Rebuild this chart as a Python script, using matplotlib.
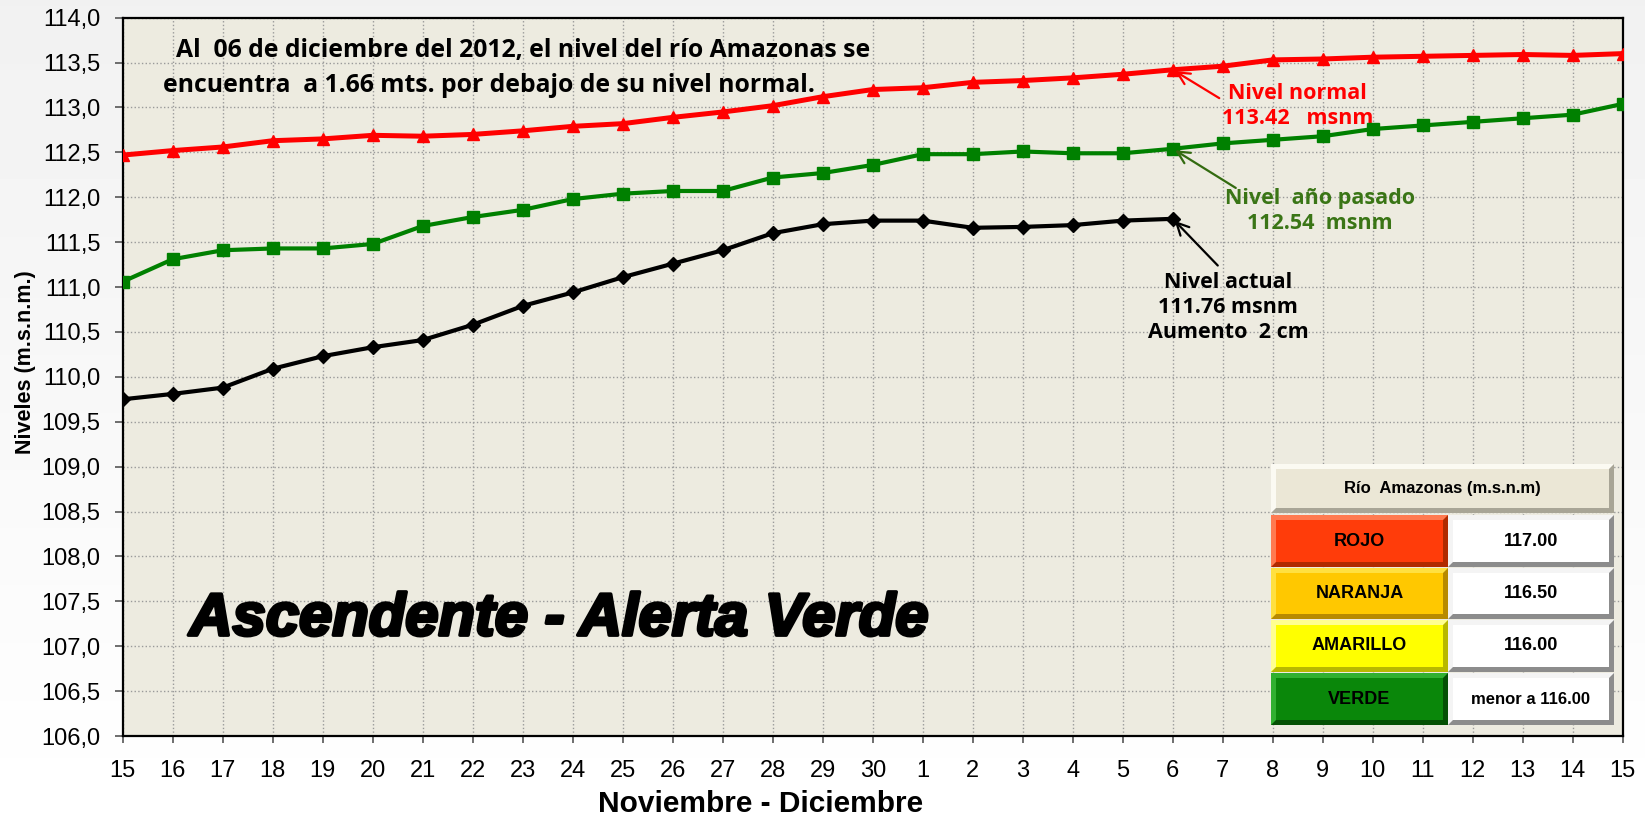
import numpy as np
import matplotlib
matplotlib.use('Agg')
import matplotlib.pyplot as plt
from matplotlib.patches import Rectangle, Polygon
import matplotlib.patheffects as pe

plt.rcParams['font.family'] = ['Liberation Sans', 'DejaVu Sans']

# datos
dias = ['15', '16', '17', '18', '19', '20', '21', '22', '23', '24', '25', '26', '27', '28', '29', '30',
        '1', '2', '3', '4', '5', '6', '7', '8', '9', '10', '11', '12', '13', '14', '15']
nivel_normal = [112.47, 112.52, 112.56, 112.63, 112.65, 112.69, 112.68, 112.70, 112.74, 112.79, 112.82,
                112.89, 112.95, 113.02, 113.12, 113.20, 113.22, 113.28, 113.30, 113.33, 113.37, 113.42,
                113.46, 113.53, 113.54, 113.56, 113.57, 113.58, 113.59, 113.58, 113.60]
nivel_pasado = [111.06, 111.31, 111.41, 111.43, 111.43, 111.48, 111.68, 111.78, 111.86, 111.98, 112.04,
                112.07, 112.07, 112.22, 112.27, 112.36, 112.48, 112.48, 112.51, 112.49, 112.49, 112.54,
                112.60, 112.64, 112.68, 112.76, 112.80, 112.84, 112.88, 112.92, 113.04]
nivel_actual = [109.75, 109.81, 109.88, 110.09, 110.23, 110.33, 110.41, 110.58, 110.79, 110.94, 111.11,
                111.26, 111.41, 111.60, 111.70, 111.74, 111.74, 111.66, 111.67, 111.69, 111.74, 111.76]

alertas = ['ROJO', 'NARANJA', 'AMARILLO', 'VERDE']
umbrales = ['117.00', '116.50', '116.00', 'menor a 116.00']
colores_alerta = [('#ff3c0a', '#b02a00', '#ff7a50'),
                  ('#ffc800', '#b88a00', '#ffe040'),
                  ('#ffff00', '#b8b800', '#ffff90'),
                  ('#0a870a', '#045004', '#30b030')]

x = np.arange(len(dias))
hoy = len(nivel_actual) - 1

fig = plt.figure(figsize=(16.45, 8.19), dpi=100)

# fondo degradado
bg = fig.add_axes([0, 0, 1, 1], zorder=-10)
grad = np.linspace(0.945, 1.0, 256).reshape(-1, 1)
bg.imshow(grad, aspect='auto', cmap='gray', vmin=0, vmax=1, extent=[0, 1, 0, 1])
bg.axis('off')

ax = fig.add_axes([0.0746, 0.1013, 0.9119, 0.8771])
ax.set_facecolor('#edebe0')

ax.plot(x, nivel_normal, color='#ff0000', lw=3.6, marker='^', ms=9, zorder=4)
ax.plot(x, nivel_pasado, color='#008000', lw=3.0, marker='s', ms=8, zorder=4)
ax.plot(x[:len(nivel_actual)], nivel_actual, color='black', lw=3.0, marker='D', ms=7, zorder=4)

ax.set_xlim(0, len(dias) - 1)
ax.set_ylim(106, 114)
ax.set_xticks(x)
ax.set_xticklabels(dias)
yt = np.arange(106, 114.01, 0.5)
ax.set_yticks(yt)
ax.set_yticklabels([('%.1f' % v).replace('.', ',') for v in yt])
ax.tick_params(axis='x', labelsize=17, length=5, width=1.2, color='#555555', pad=12)
ax.tick_params(axis='y', labelsize=17, length=6, width=1.2, color='#555555', pad=10)
ax.grid(True, ls=':', color='#9a9a9a', lw=1.0)
for s in ax.spines.values():
    s.set_linewidth(1.6)
    s.set_color('black')

ax.set_xlabel('Noviembre - Diciembre', fontsize=21.5, fontweight='bold')
ax.xaxis.set_label_coords(0.4255, -0.075)
ax.set_ylabel('Niveles (m.s.n.m.)', fontsize=15.5, fontweight='bold')
ax.yaxis.set_label_coords(-0.058, 0.52)

fuente = 'Open Sans'
ax.text(0.0355, 0.955, 'Al  06 de diciembre del 2012, el nivel del río Amazonas se',
        transform=ax.transAxes, family=fuente, fontsize=17.8, fontweight='bold', va='center', ha='left')
ax.text(0.0269, 0.905, 'encuentra  a 1.66 mts. por debajo de su nivel normal.',
        transform=ax.transAxes, family=fuente, fontsize=17.8, fontweight='bold', va='center', ha='left')

flecha = dict(arrowstyle='->', lw=1.6, mutation_scale=22, shrinkA=0, shrinkB=2)
ax.annotate('', xy=(hoy, nivel_normal[hoy]), xytext=(0.731, 0.888), textcoords='axes fraction',
            arrowprops=dict(flecha, color='#ff0000'), zorder=5)
ax.text(0.783, 0.877, 'Nivel normal\n113.42   msnm', transform=ax.transAxes, color='#ff0000',
        family=fuente, fontsize=15.5, fontweight='bold', ha='center', va='center', linespacing=1.2)

ax.annotate('', xy=(hoy, nivel_pasado[hoy]), xytext=(0.742, 0.763), textcoords='axes fraction',
            arrowprops=dict(flecha, color='#336b10'), zorder=5)
ax.text(0.798, 0.731, 'Nivel  año pasado\n112.54  msnm', transform=ax.transAxes, color='#3a7516',
        family=fuente, fontsize=15.5, fontweight='bold', ha='center', va='center', linespacing=1.25)

ax.annotate('', xy=(hoy, nivel_actual[hoy]), xytext=(0.730, 0.655), textcoords='axes fraction',
            arrowprops=dict(flecha, color='black'), zorder=5)
ax.text(0.737, 0.597, 'Nivel actual\n111.76 msnm\nAumento  2 cm', transform=ax.transAxes, color='black',
        family=fuente, fontsize=15.5, fontweight='bold', ha='center', va='center', linespacing=1.25)

ax.text(0.291, 0.162, 'Ascendente - Alerta Verde', transform=ax.transAxes, family='Liberation Sans',
        fontsize=43, fontweight='bold', style='italic', ha='center', va='center',
        path_effects=[pe.withStroke(linewidth=2.5, foreground='black')])

# tabla de alertas
tab = fig.add_axes([1271 / 1645, 1 - 725 / 819, 343 / 1645, 261 / 819], zorder=5)
tab.set_xlim(0, 343)
tab.set_ylim(261, 0)
tab.axis('off')


def boton(x0, y0, w, h, color, oscuro, claro, texto, size):
    b = 5
    tab.add_patch(Rectangle((x0, y0), w, h, fc=oscuro, ec='none'))
    tab.add_patch(Polygon([(x0, y0), (x0 + w, y0), (x0 + w - b, y0 + b), (x0 + b, y0 + b),
                           (x0 + b, y0 + h - b), (x0, y0 + h)], closed=True, fc=claro, ec='none'))
    tab.add_patch(Rectangle((x0 + b, y0 + b), w - 2 * b, h - 2 * b, fc=color, ec='none'))
    tab.text(x0 + w / 2, y0 + h / 2, texto, ha='center', va='center', fontsize=size,
             fontweight='bold', family='Liberation Sans')


boton(0, 0, 343, 49, '#ebe7d6', '#a8a596', '#fbfaf2', 'Río  Amazonas (m.s.n.m)', 12)
filas = [(51, 52), (104, 51), (156, 52), (209, 52)]
for (y0, h), nom, val, (c, o, cl) in zip(filas, alertas, umbrales, colores_alerta):
    boton(0, y0, 177, h, c, o, cl, nom, 13)
    boton(177, y0, 166, h, '#ffffff', '#8c8c8c', '#f4f4f4', val, 13 if len(val) < 8 else 12)

fig.savefig('out.png', dpi=100)
